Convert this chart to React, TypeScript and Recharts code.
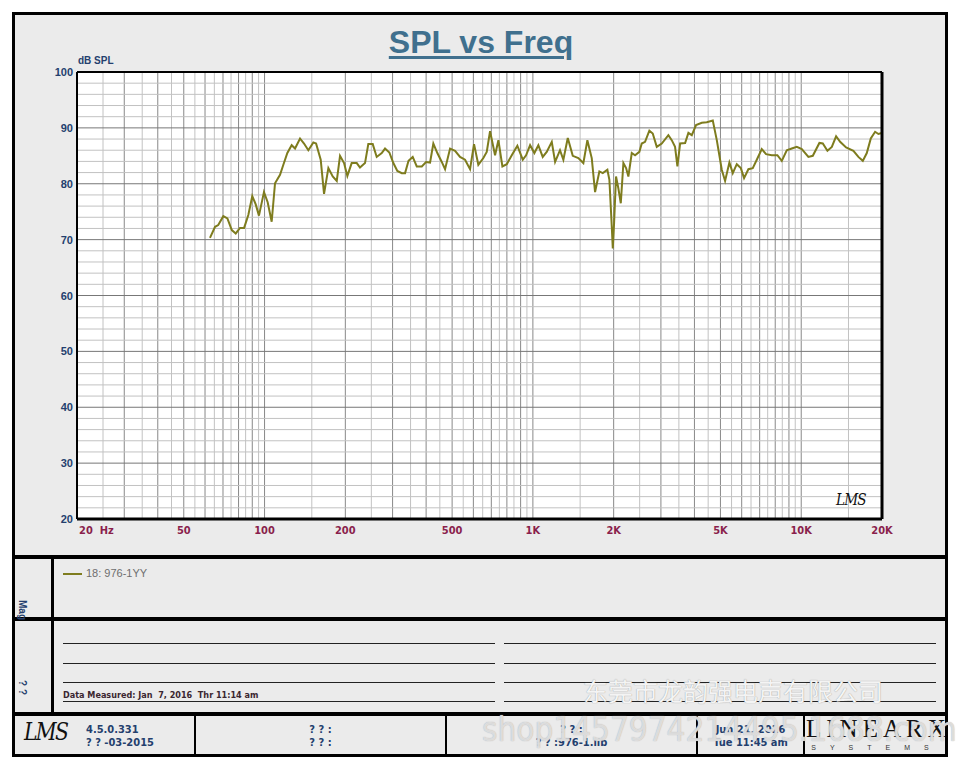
import React from "react";
import { LineChart, Line, XAxis, YAxis, ReferenceLine, ReferenceArea } from "recharts";

// frequency response
const freqHz = [
  62.6, 65.4, 67.2, 70.2, 72.7, 75.5, 78.1, 81.0, 83.9, 87.0,
  90.0, 92.7, 95.3, 99.5, 102.7, 106.3, 109.4, 114.2, 117.5, 121.6,
  126.2, 129.9, 135.6, 140.3, 145.6, 152.0, 155.6, 161.9, 166.6, 172.9,
  179.5, 185.8, 191.1, 197.8, 203.5, 211.2, 220.6, 226.8, 236.8, 243.6,
  253.0, 261.8, 273.3, 281.2, 291.8, 302.0, 312.5, 324.6, 333.9, 344.0,
  356.6, 369.2, 385.5, 399.8, 413.8, 425.6, 440.5, 457.5, 470.6, 491.3,
  512.8, 535.2, 558.6, 583.2, 603.5, 626.2, 653.7, 673.0, 692.4, 722.8,
  743.8, 769.8, 799.3, 834.2, 875.2, 916.8, 943.2, 976.3, 1013, 1048,
  1088, 1126, 1176, 1210, 1262, 1299, 1349, 1408, 1477, 1542,
  1596, 1657, 1705, 1769, 1822, 1895, 1928, 1968, 1985, 2007,
  2041, 2082, 2126, 2174, 2225, 2269, 2336, 2403, 2493, 2545,
  2618, 2717, 2797, 2895, 3022, 3198, 3292, 3387, 3456, 3537,
  3692, 3798, 3910, 4056, 4260, 4446, 4682, 4846, 5057, 5203,
  5399, 5558, 5752, 5954, 6124, 6355, 6598, 6830, 7129, 7396,
  7766, 8149, 8463, 8834, 9222, 9626, 10048, 10634, 11045, 11688,
  12035, 12521, 13003, 13490, 13962, 14698, 15648, 16333, 16962, 17554,
  18166, 18851, 19393, 20000,
];

const splDb = [
  70.3, 72.3, 72.6, 74.2, 73.8, 71.7, 71.1, 72.1, 72.1, 74.4,
  77.8, 76.3, 74.3, 78.5, 76.7, 73.2, 80.1, 81.6, 83.4, 85.5,
  86.9, 86.3, 88.1, 87.2, 86.0, 87.4, 87.2, 84.3, 78.2, 82.8,
  81.3, 80.5, 85.0, 83.7, 81.4, 83.7, 83.7, 82.9, 83.7, 87.1,
  87.1, 84.8, 85.5, 86.3, 85.6, 83.7, 82.3, 81.9, 81.9, 84.1,
  84.8, 83.1, 83.1, 83.9, 83.8, 87.2, 85.5, 83.9, 82.6, 86.3,
  85.9, 84.8, 84.3, 82.6, 87.1, 83.4, 84.6, 85.7, 89.4, 85.1,
  87.8, 83.1, 83.5, 85.1, 86.8, 84.3, 85.1, 86.9, 85.5, 86.9,
  84.8, 85.7, 87.5, 83.9, 86.0, 84.3, 88.2, 85.0, 84.6, 83.7,
  87.8, 84.6, 78.5, 82.2, 81.9, 82.5, 80.7, 72.3, 68.4, 72.9,
  81.3, 79.2, 76.5, 83.7, 82.8, 81.3, 85.5, 85.1, 85.7, 87.2,
  87.5, 89.5, 89.0, 86.6, 87.2, 88.7, 87.8, 86.6, 83.1, 87.2,
  87.3, 89.1, 88.7, 90.5, 90.9, 91.0, 91.3, 87.8, 82.5, 80.5,
  83.8, 81.9, 83.5, 82.8, 81.0, 82.6, 82.8, 84.3, 86.2, 85.3,
  85.1, 85.1, 84.1, 86.0, 86.3, 86.6, 86.2, 84.8, 85.0, 87.3,
  87.2, 85.9, 86.6, 88.5, 87.5, 86.5, 85.9, 84.8, 84.1, 85.5,
  88.1, 89.3, 88.9, 89.1,
];

const freqTicks = [20, 50, 100, 200, 500, 1000, 2000, 5000, 10000, 20000];
const freqTickLabels = ["20  Hz", "50", "100", "200", "500", "1K", "2K", "5K", "10K", "20K"];
const splTicks = [20, 30, 40, 50, 60, 70, 80, 90, 100];

// log grid: every half step inside each decade
const gridDecades = [10, 100, 1000, 10000];
const gridSteps = [1, 1.5, 2, 2.5, 3, 3.5, 4, 4.5, 5, 5.5, 6, 6.5, 7, 7.5, 8, 8.5, 9, 9.5];
const splMinor = [22, 24, 26, 28, 32, 34, 36, 38, 42, 44, 46, 48, 52, 54, 56, 58, 62, 64, 66, 68, 72, 74, 76, 78, 82, 84, 86, 88, 92, 94, 96, 98];
const splMajor = [30, 40, 50, 60, 70, 80, 90];

const data = freqHz.map((f, i) => ({ freq: f, spl: splDb[i] }));

const vGrid: { v: number; major: boolean }[] = [];
gridDecades.forEach((d) =>
  gridSteps.forEach((m) => {
    const v = d * m;
    if (v > 20 && v < 20000) vGrid.push({ v, major: Number.isInteger(m) });
  })
);

const NAVY = "#243f6e";
const MAROON = "#8a1f4c";
const CURVE = "#7e7c1e";
const narrow = "'Liberation Sans Narrow', 'DejaVu Sans Condensed', 'Liberation Sans', sans-serif";
const sans = "'Liberation Sans', Arial, sans-serif";

function FreqTick(props: any) {
  const { x, y, payload } = props;
  const i = freqTicks.indexOf(payload.value);
  const first = payload.value === 20;
  return (
    <text
      x={first ? x + 2 : x}
      y={y + 7}
      textAnchor={first ? "start" : "middle"}
      fill={MAROON}
      fontFamily={narrow}
      fontWeight="bold"
      fontSize={11}
      style={{ whiteSpace: "pre" }}
    >
      {freqTickLabels[i]}
    </text>
  );
}

function SplTick(props: any) {
  const { x, y, payload } = props;
  return (
    <text x={x + 4} y={y + 4} textAnchor="end" fill={NAVY} fontFamily={sans} fontWeight="bold" fontSize={11}>
      {payload.value}
    </text>
  );
}

const abs = (s: React.CSSProperties): React.CSSProperties => ({ position: "absolute", ...s });

export default function App() {
  return (
    <div style={abs({ left: 0, top: 0, width: 960, height: 768, background: "#fff", overflow: "hidden", fontFamily: sans })}>
      <div style={abs({ left: 12, top: 12, width: 936, height: 745, background: "#ebebeb", border: "3px solid #000", boxSizing: "border-box" })} />

      <div style={abs({ left: 0, top: 24, width: 962, textAlign: "center", fontSize: 32, fontWeight: "bold", color: "#40708e", textDecoration: "underline", textDecorationThickness: 3, textUnderlineOffset: 3 })}>
        SPL vs Freq
      </div>
      <div style={abs({ left: 78, top: 55, fontSize: 10, fontWeight: "bold", color: NAVY })}>dB SPL</div>

      <div style={abs({ left: 0, top: 0 })}>
        <LineChart width={960} height={560} data={data} margin={{ top: 72, right: 78, bottom: 11, left: 37 }}>
          <XAxis
            dataKey="freq"
            type="number"
            scale="log"
            domain={[20, 20000]}
            ticks={freqTicks}
            tick={<FreqTick />}
            tickLine={false}
            axisLine={false}
            height={30}
            allowDataOverflow
          />
          <YAxis
            type="number"
            domain={[20, 100]}
            ticks={splTicks}
            tick={<SplTick />}
            tickLine={false}
            axisLine={false}
            width={40}
            allowDataOverflow
          />
          <ReferenceArea x1={20} x2={20000} y1={20} y2={100} fill="#ffffff" fillOpacity={1} stroke="none" />
          {vGrid.map((g) => (
            <ReferenceLine key={"v" + g.v} x={g.v} stroke={g.major ? "#888888" : "#c2c2c2"} strokeWidth={1} />
          ))}
          {splMinor.map((v) => (
            <ReferenceLine key={"hm" + v} y={v} stroke="#c2c2c2" strokeWidth={1} />
          ))}
          {splMajor.map((v) => (
            <ReferenceLine key={"hM" + v} y={v} stroke="#777777" strokeWidth={1} />
          ))}
          <Line
            type="linear"
            dataKey="spl"
            stroke={CURVE}
            strokeWidth={2}
            dot={false}
            isAnimationActive={false}
          />
          <ReferenceLine y={100} stroke="#000" strokeWidth={2} />
          <ReferenceLine x={20} stroke="#000" strokeWidth={2} />
          <ReferenceLine y={20} stroke="#000" strokeWidth={3} />
          <ReferenceLine x={20000} stroke="#000" strokeWidth={3} />
        </LineChart>
      </div>

      {/* small logo inside the plot */}
      <div style={abs({ left: 836, top: 490, fontFamily: "'DejaVu Serif', serif", fontStyle: "italic", fontSize: 16, color: "#111", letterSpacing: -1, transform: "scaleX(0.85)", transformOrigin: "left top" })}>LMS</div>

      {/* panel dividers */}
      <div style={abs({ left: 12, top: 555, width: 936, height: 4, background: "#000" })} />
      <div style={abs({ left: 12, top: 617, width: 936, height: 4, background: "#000" })} />
      <div style={abs({ left: 12, top: 712, width: 936, height: 4, background: "#000" })} />
      <div style={abs({ left: 51, top: 557, width: 3, height: 157, background: "#000" })} />

      {/* side captions */}
      <div style={abs({ left: 14, top: 600, transform: "rotate(90deg)", transformOrigin: "left top", fontSize: 10, fontWeight: "bold", color: NAVY })}>
        <span style={{ position: "relative", left: 0, top: -14 }}>Mag</span>
      </div>
      <div style={abs({ left: 14, top: 680, transform: "rotate(90deg)", transformOrigin: "left top", fontSize: 10, fontWeight: "bold", color: NAVY })}>
        <span style={{ position: "relative", left: 0, top: -14 }}>? ?</span>
      </div>

      {/* legend */}
      <div style={abs({ left: 63, top: 573, width: 19, height: 2, background: CURVE })} />
      <div style={abs({ left: 86, top: 567, fontSize: 11, color: "#6e6e6e" })}>18: 976-1YY</div>

      {/* notes */}
      {[643, 663, 682, 701].map((t) => (
        <React.Fragment key={t}>
          <div style={abs({ left: 63, top: t, width: 432, height: 1, background: "#222" })} />
          <div style={abs({ left: 504, top: t, width: 432, height: 1, background: "#222" })} />
        </React.Fragment>
      ))}
      <div style={abs({ left: 63, top: 690, fontSize: 9, fontWeight: "bold", fontFamily: narrow, color: "#3a2630", whiteSpace: "pre" })}>
        Data Measured: Jan  7, 2016  Thr 11:14 am
      </div>

      {/* footer */}
      {[194, 445, 696, 803].map((l) => (
        <div key={l} style={abs({ left: l, top: 714, width: 2, height: 41, background: "#000" })} />
      ))}
      <div style={abs({ left: 24, top: 718, fontFamily: "'DejaVu Serif', serif", fontStyle: "italic", fontSize: 24, color: "#111", letterSpacing: -2, transform: "scaleX(0.85)", transformOrigin: "left top" })}>LMS</div>
      <div style={abs({ left: 86, top: 723, fontSize: 11, fontWeight: "bold", fontFamily: narrow, color: NAVY, lineHeight: "13px", whiteSpace: "pre" })}>
        4.5.0.331{"\n"}? ? -03-2015
      </div>
      <div style={abs({ left: 196, top: 723, width: 249, textAlign: "center", fontSize: 11, fontWeight: "bold", fontFamily: narrow, color: NAVY, lineHeight: "13px", whiteSpace: "pre" })}>
        ? ? :{"\n"}? ? :
      </div>
      <div style={abs({ left: 447, top: 723, width: 249, textAlign: "center", fontSize: 11, fontWeight: "bold", fontFamily: narrow, color: NAVY, lineHeight: "13px", whiteSpace: "pre" })}>
        ? ? :{"\n"}? ? :976-1.lib
      </div>
      <div style={abs({ left: 698, top: 723, width: 105, textAlign: "center", fontSize: 11, fontWeight: "bold", fontFamily: narrow, color: NAVY, lineHeight: "13px", whiteSpace: "pre" })}>
        Jun 21, 2016{"\n"}Tue 11:45 am
      </div>
      <div style={abs({ left: 806, top: 715, width: 138, textAlign: "center", fontFamily: "'Liberation Serif', serif", fontSize: 25, color: "#111", letterSpacing: 5 })}>LINEARX</div>
      <div style={abs({ left: 810, top: 744, width: 134, textAlign: "center", fontFamily: sans, fontSize: 7, color: "#333", letterSpacing: 14 })}>SYSTEMS</div>

      {/* watermarks */}
      <div style={abs({ left: 583, top: 672, fontFamily: "'Noto Sans CJK SC', sans-serif", fontSize: 25, color: "#f4f4f4", textShadow: "0 0 1px #8a8a8a", whiteSpace: "nowrap" })}>
        东莞市龙韵强电声有限公司
      </div>
      <div style={abs({ left: 482, top: 710, fontFamily: narrow, fontSize: 33, color: "rgba(246,246,246,0.7)", textShadow: "0 0 1px #a0a0a0", whiteSpace: "nowrap" })}>
        shop1457974214495.1688.com
      </div>
    </div>
  );
}
